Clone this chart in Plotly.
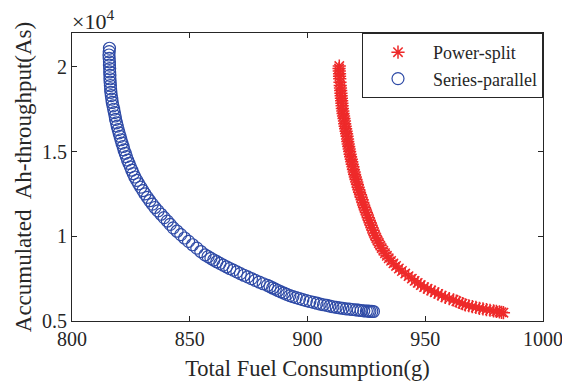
import plotly.graph_objects as go

# Series-parallel (blue circles): fuel (g), Ah-throughput (As)
sp_fuel = [815.9, 815.8, 815.7, 815.8, 815.9, 815.9, 816.0, 816.0, 816.1, 816.1, 816.2, 816.3,
           816.4, 816.5, 816.7, 816.9, 817.1, 817.4, 817.7, 818.0, 818.3, 818.5, 818.9, 819.2,
           819.6, 820.0, 820.4, 820.8, 821.2, 821.7, 822.1, 822.6, 823.1, 823.6, 824.2, 824.8,
           825.4, 826.0, 826.7, 827.5, 828.3, 829.2, 830.1, 831.0, 832.0, 833.0, 834.1, 835.2,
           836.5, 837.8, 839.1, 840.5, 841.7, 843.0, 844.6, 846.2, 847.8, 849.5, 851.2, 853.0,
           854.7, 856.5, 857.8, 859.0, 860.2, 861.5, 862.8, 864.2, 865.6, 867.0, 868.5, 870.0,
           871.5, 873.0, 874.6, 876.2, 877.8, 879.5, 881.2, 883.0, 884.1, 885.2, 886.3, 887.5,
           888.7, 890.0, 891.2, 892.5, 893.8, 895.2, 896.6, 898.0, 899.5, 901.0, 902.5, 904.0,
           905.4, 906.8, 908.2, 909.5, 910.8, 912.2, 913.6, 915.0, 916.4, 917.8, 919.1, 920.5,
           921.6, 922.8, 923.9, 925.0, 925.8, 926.5, 927.3, 928.0]
sp_ah = [21100, 20900, 20700, 20500, 20300, 20100, 19900, 19700, 19500, 19300, 19100, 18900,
         18700, 18500, 18300, 18100, 17900, 17700, 17500, 17300, 17100, 16900, 16700, 16500,
         16300, 16100, 15900, 15700, 15500, 15300, 15100, 14900, 14700, 14500, 14300, 14100,
         13900, 13700, 13500, 13300, 13100, 12900, 12700, 12500, 12300, 12100, 11900, 11700,
         11500, 11300, 11100, 10900, 10700, 10500, 10300, 10100, 9900, 9700, 9500, 9300,
         9100, 8900, 8800, 8700, 8600, 8500, 8400, 8300, 8200, 8100, 8000, 7900,
         7800, 7700, 7600, 7500, 7400, 7300, 7200, 7100, 7030, 6950, 6880, 6800,
         6720, 6650, 6570, 6500, 6440, 6380, 6320, 6260, 6200, 6150, 6100, 6050,
         6000, 5960, 5920, 5880, 5840, 5810, 5780, 5750, 5720, 5700, 5680, 5660,
         5640, 5620, 5600, 5590, 5580, 5570, 5565, 5560]

# Power-split (red asterisks)
ps_fuel = [913.5, 913.4, 913.5, 913.6, 913.6, 913.7, 913.8, 913.9, 914.0, 914.1, 914.2, 914.3,
           914.4, 914.5, 914.6, 914.7, 914.8, 915.0, 915.1, 915.3, 915.5, 915.7, 915.8, 916.0,
           916.2, 916.4, 916.6, 916.8, 917.0, 917.1, 917.3, 917.5, 917.7, 917.9, 918.1, 918.3,
           918.6, 918.8, 919.0, 919.3, 919.5, 919.8, 920.0, 920.3, 920.6, 920.9, 921.2, 921.5,
           921.8, 922.1, 922.5, 922.8, 923.2, 923.5, 923.8, 924.2, 924.6, 925.0, 925.4, 925.8,
           926.2, 926.6, 927.0, 927.4, 927.8, 928.2, 928.7, 929.2, 929.7, 930.3, 930.9, 931.5,
           932.2, 932.9, 933.7, 934.5, 935.5, 936.5, 937.6, 938.8, 940.1, 941.5, 942.9,
           944.3, 945.5, 946.8, 948.1, 949.5, 951.0, 952.5, 954.0, 955.5, 957.0, 958.5, 960.2,
           962.0, 963.2, 964.5, 965.8, 967.0, 968.5, 970.0, 971.5, 973.0, 974.5, 976.0, 977.5,
           979.0, 980.2, 981.5, 982.4, 983.2]
ps_ah = [20050, 19900, 19750, 19600, 19450, 19300, 19100, 18900, 18750, 18600, 18450, 18300,
         18150, 18000, 17850, 17700, 17550, 17400, 17250, 17100, 16950, 16800, 16650, 16500,
         16350, 16200, 16050, 15900, 15750, 15600, 15450, 15300, 15150, 15000, 14850, 14700,
         14550, 14400, 14250, 14100, 13950, 13800, 13650, 13500, 13350, 13200, 13050, 12900,
         12750, 12600, 12450, 12300, 12150, 12000, 11850, 11700, 11550, 11400, 11250, 11100,
         10950, 10800, 10650, 10500, 10350, 10200, 10050, 9900, 9750, 9600, 9450, 9300,
         9150, 9000, 8850, 8700, 8550, 8400, 8250, 8100, 7950, 7800, 7650,
         7500, 7370, 7250, 7120, 7000, 6900, 6800, 6700, 6600, 6500, 6400, 6320,
         6250, 6170, 6100, 6020, 5950, 5900, 5850, 5800, 5750, 5710, 5670, 5635,
         5600, 5570, 5540, 5515, 5490, 5460, 5440, 5425, 5415]

y_ticks = [5000, 10000, 15000, 20000]
y_tick_text = ["0.5", "1", "1.5", "2"]
x_ticks = [800, 850, 900, 950, 1000]

FONT = "Liberation Serif"
AX = "#262626"

fig = go.Figure()
fig.add_trace(go.Scatter(
    x=ps_fuel, y=ps_ah, mode="markers", name="Power-split",
    marker=dict(symbol="asterisk-open", size=11, color="#EE2A2A",
                line=dict(color="#EE2A2A", width=1.5)),
))
fig.add_trace(go.Scatter(
    x=sp_fuel, y=sp_ah, mode="markers", name="Series-parallel",
    marker=dict(symbol="circle-open", size=12, color="#2E4AA6",
                line=dict(color="#2E4AA6", width=1.2)),
))

fig.update_layout(
    width=562, height=387,
    margin=dict(l=72, r=19, t=33, b=66, autoexpand=False),
    paper_bgcolor="white", plot_bgcolor="white",
    font=dict(family=FONT, size=18, color=AX),
    showlegend=True,
    legend=dict(
        x=1, y=1, xanchor="right", yanchor="top",
        bgcolor="white", bordercolor=AX, borderwidth=1,
        font=dict(family=FONT, size=18, color=AX),
        itemwidth=60,
        tracegroupgap=0,
    ),
    xaxis=dict(
        range=[800, 1000], tickvals=x_ticks, ticks="inside", ticklen=5,
        showline=True, linecolor=AX, linewidth=1, mirror="ticks",
        showgrid=False, zeroline=False, tickcolor=AX, automargin=False,
        ticklabeloverflow="allow",
        tickfont=dict(family=FONT, size=20, color=AX),
        title=dict(text="Total Fuel Consumption(g)", font=dict(family=FONT, size=22.5, color=AX), standoff=11),
    ),
    yaxis=dict(
        range=[5000, 22000], tickvals=y_ticks, ticktext=y_tick_text, ticks="inside", ticklen=5,
        showline=True, linecolor=AX, linewidth=1, mirror="ticks",
        showgrid=False, zeroline=False, tickcolor=AX, automargin=False,
        ticklabeloverflow="allow",
        tickfont=dict(family=FONT, size=20, color=AX),
        title=dict(text="Accumulated  Ah-throughput(As)", font=dict(family=FONT, size=23, color=AX), standoff=3),
    ),
    annotations=[dict(
        text="×10<sup>4</sup>", xref="paper", yref="paper", x=0, y=1,
        xanchor="left", yanchor="bottom", showarrow=False, yshift=-3, xshift=-2,
        font=dict(family=FONT, size=22, color=AX),
    )],
)

fig.write_html("out.html")
